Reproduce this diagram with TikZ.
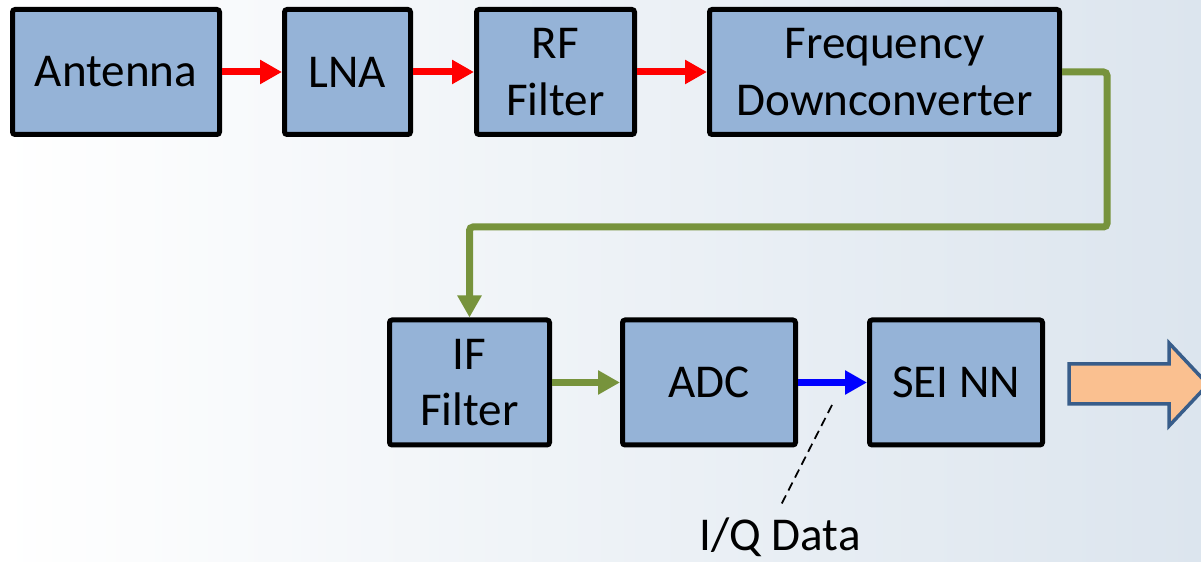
\documentclass[tikz,border=0pt]{standalone}
\usepackage{fontspec}
\setmainfont{Carlito}
\usetikzlibrary{arrows.meta,calc}

\definecolor{blockfill}{HTML}{95B3D7}
\definecolor{ifgreen}{HTML}{77933C}
\definecolor{outfill}{HTML}{FAC090}
\definecolor{outedge}{HTML}{385D8A}
\definecolor{bgright}{HTML}{DCE5EE}

\begin{document}
\begin{tikzpicture}[
        block/.style={draw=black, line width=0.1cm, fill=blockfill, rounded corners=1.5pt,
            minimum height=2.5cm, inner sep=0pt, align=center,
            font=\fontsize{26.8}{32.3}\selectfont},
        sig/.style={line width=0.14cm, -{Triangle[length=0.44cm,width=0.46cm]}}
    ]
        % Page and background
        \clip (0,0) rectangle (24.02,-11.24);
        \shade[left color=white, right color=bgright] (0,0) rectangle (24.02,-11.24);

        % RF front end
        \node[block, minimum width=4.14cm] (antenna) at (2.32,-1.44) {Antenna};
        \node[block, minimum width=2.52cm] (lna) at (6.95,-1.44) {LNA};
        \node[block, minimum width=3.16cm] (rffilt) at (11.11,-1.44) {RF\\Filter};
        \node[block, minimum width=7.0cm] (freq) at (17.69,-1.44) {Frequency\\Downconverter};

        % IF chain
        \node[block, minimum width=3.2cm] (iffilt) at (9.39,-7.65) {IF\\Filter};
        \node[block, minimum width=3.46cm] (adc) at (14.18,-7.65) {ADC};
        \node[block, minimum width=3.46cm] (sei) at (19.12,-7.65) {SEI NN};

        % RF links
        \draw[sig, red] (antenna.east) -- (lna.west);
        \draw[sig, red] (lna.east) -- (rffilt.west);
        \draw[sig, red] (rffilt.east) -- (freq.west);

        % IF links
        \coordinate (bend) at (22.14,-4.54);
        \draw[sig, ifgreen, rounded corners=2pt] (freq.east) -| (bend) -| (iffilt.north);
        \draw[sig, ifgreen] (iffilt.east) -- (adc.west);

        % Sampled data
        \draw[sig, blue] (adc.east) -- (sei.west);
        \coordinate (iqtop) at (16.64,-8.10);
        \node[anchor=north, inner sep=0.2cm, font=\fontsize{26.8}{32.3}\selectfont] (iq) at (15.60,-10.14) {I/Q Data};
        \draw[line width=1pt, dash pattern=on 0.18cm off 0.11cm] (iqtop) -- (iq.north);

        % Output arrow
        \draw[fill=outfill, draw=outedge, line width=0.07cm]
            (21.38,-7.28) -- (23.38,-7.28) -- (23.38,-6.86) -- (24.16,-7.69)
            -- (23.38,-8.52) -- (23.38,-8.08) -- (21.38,-8.08) -- cycle;
    \end{tikzpicture}
\end{document}
